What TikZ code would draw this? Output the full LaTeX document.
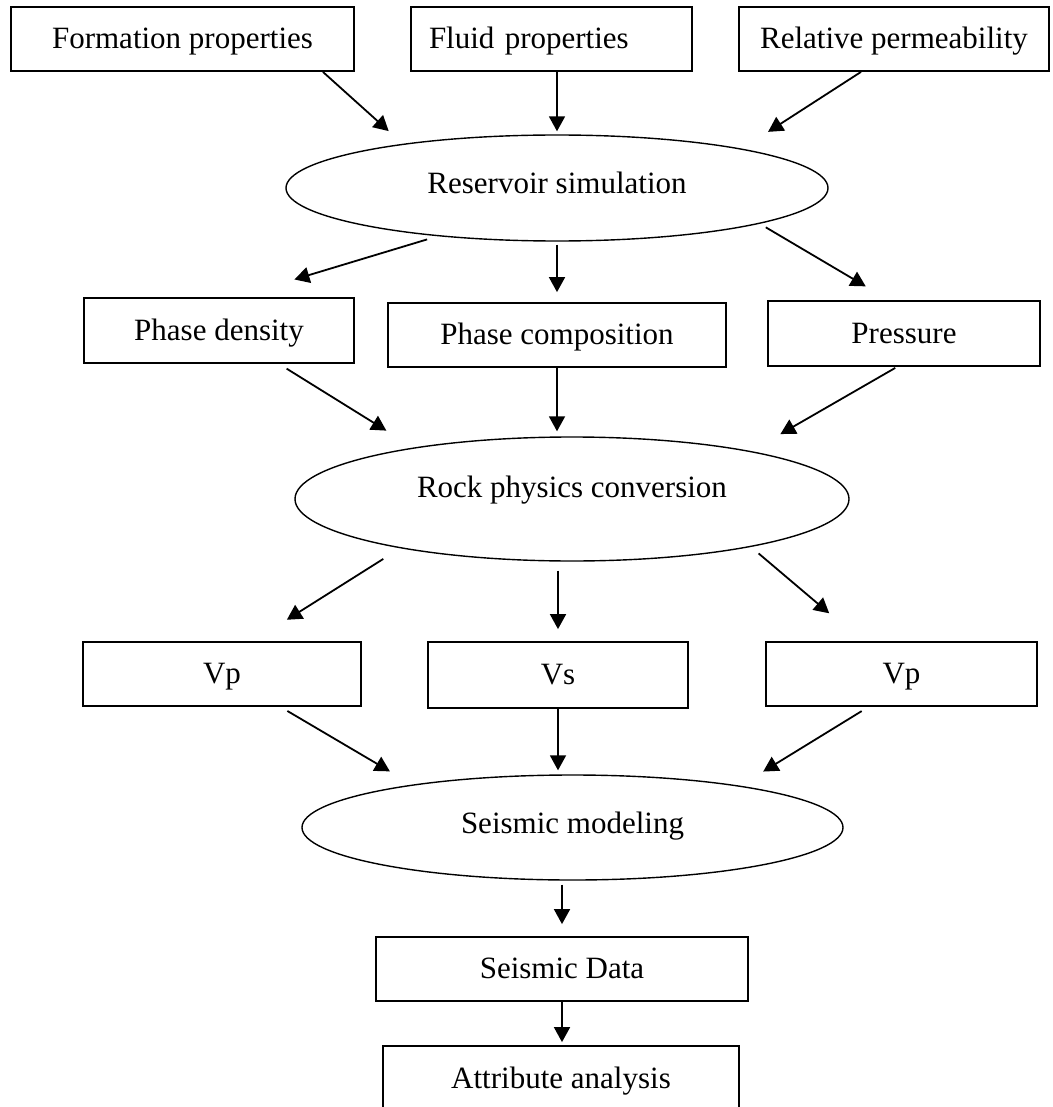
\documentclass[tikz,border=0pt]{standalone}
\usepackage{fontspec}
\setmainfont{Liberation Serif}
\usepackage{tikz}
\usetikzlibrary{shapes,arrows.meta}

\begin{document}
\begin{tikzpicture}[x=1pt, y=-1pt,
    every node/.style={font=\fontsize{31}{37}\selectfont, inner sep=0pt},
    procbox/.style={draw, line width=1.8pt, minimum height=64pt, text height=24pt, text depth=5pt},
    simell/.style={draw, ellipse, line width=1.4pt},
    flow/.style={-{Triangle[length=15pt, width=16pt]}, line width=1.8pt}]
    \useasboundingbox (0,0) rectangle (1052,1107);

    % Input properties
    \node[procbox, minimum width=343pt] (form) at (182.5,39) {Formation properties};
    \node[procbox, minimum width=281pt, text width=245pt, inner xsep=18pt, align=left] (fluid) at (551.5,39) {Fluid properties};
    \node[procbox, minimum width=310pt] (relperm) at (894,39) {Relative permeability};

    % Reservoir simulation and its outputs
    \node[simell, minimum width=542pt, minimum height=106pt, text depth=11pt] (res) at (557,188) {Reservoir simulation};
    \node[procbox, minimum width=270pt, minimum height=65pt] (dens) at (219,330.5) {Phase density};
    \node[procbox, minimum width=338pt] (comp) at (557,335) {Phase composition};
    \node[procbox, minimum width=272pt, minimum height=65pt] (pres) at (904,333.5) {Pressure};

    % Rock physics and velocities
    \node[simell, minimum width=554pt, minimum height=124pt, text depth=25pt] (rock) at (572,499) {Rock physics conversion};
    \node[procbox, minimum width=278pt] (vp1) at (222,674) {Vp};
    \node[procbox, minimum width=260pt, minimum height=66pt] (vs) at (558,675) {Vs};
    \node[procbox, minimum width=271pt] (vp2) at (901.5,674) {Vp};

    % Seismic part
    \node[simell, minimum width=541pt, minimum height=105pt, text depth=10pt] (seis) at (572.5,827.5) {Seismic modeling};
    \node[procbox, minimum width=372pt] (data) at (562,969) {Seismic Data};
    \node[procbox, minimum width=356pt, minimum height=66pt] (attr) at (561,1079) {Attribute analysis};

    % Inputs into simulation
    \draw[flow, shorten >=19pt] ([xshift=-32pt]form.south east) -- (res.164.4);
    \draw[flow, shorten >=3pt] (fluid.south -| res.north) -- (res.north);
    \draw[flow, shorten >=31pt] ([xshift=-33pt]relperm.south) -- (res.12.6);

    % Simulation outputs
    \draw[flow, shorten <=11pt, shorten >=61pt] (res.202.1) -- ([xshift=17pt]dens.north);
    \draw[flow, shorten <=3pt, shorten >=10pt] (res.south) -- (res.south |- comp.north);
    \draw[flow, shorten <=7pt, shorten >=27pt] (res.350.1) -- ([xshift=-15pt]pres.north);

    % Into rock physics
    \draw[flow, shorten <=9pt, shorten >=32pt] ([xshift=60pt]dens.south) -- (rock.162.1);
    \draw[flow, shorten >=5pt] (comp.south) -- (comp.south |- rock.north);
    \draw[flow, shorten <=2pt, shorten >=34pt] ([xshift=-7pt]pres.south) -- (rock.15.5);

    % Rock physics outputs
    \draw[flow, shorten <=20pt, shorten >=40pt] (rock.196.4) -- ([xshift=31pt]vp1.north);
    \draw[flow, shorten <=9pt, shorten >=12pt] (vs.north |- rock.south) -- (vs.north);
    \draw[flow, shorten <=10pt, shorten >=43pt] (rock.345.3) -- ([xshift=-39.5pt]vp2.north);

    % Into seismic modeling
    \draw[flow, shorten <=8pt, shorten >=26pt] ([xshift=58.5pt]vp1.south) -- (seis.165.6);
    \draw[flow, shorten >=4pt] (vs.south) -- (vs.south |- seis.north);
    \draw[flow, shorten <=8pt, shorten >=27pt] ([xshift=-33pt]vp2.south) -- (seis.14.2);

    % Seismic output
    \draw[flow, shorten <=4pt, shorten >=12pt] (seis.south -| data.north) -- (data.north);
    \draw[flow, shorten >=3pt] (data.south) -- (data.south |- attr.north);
\end{tikzpicture}
\end{document}
